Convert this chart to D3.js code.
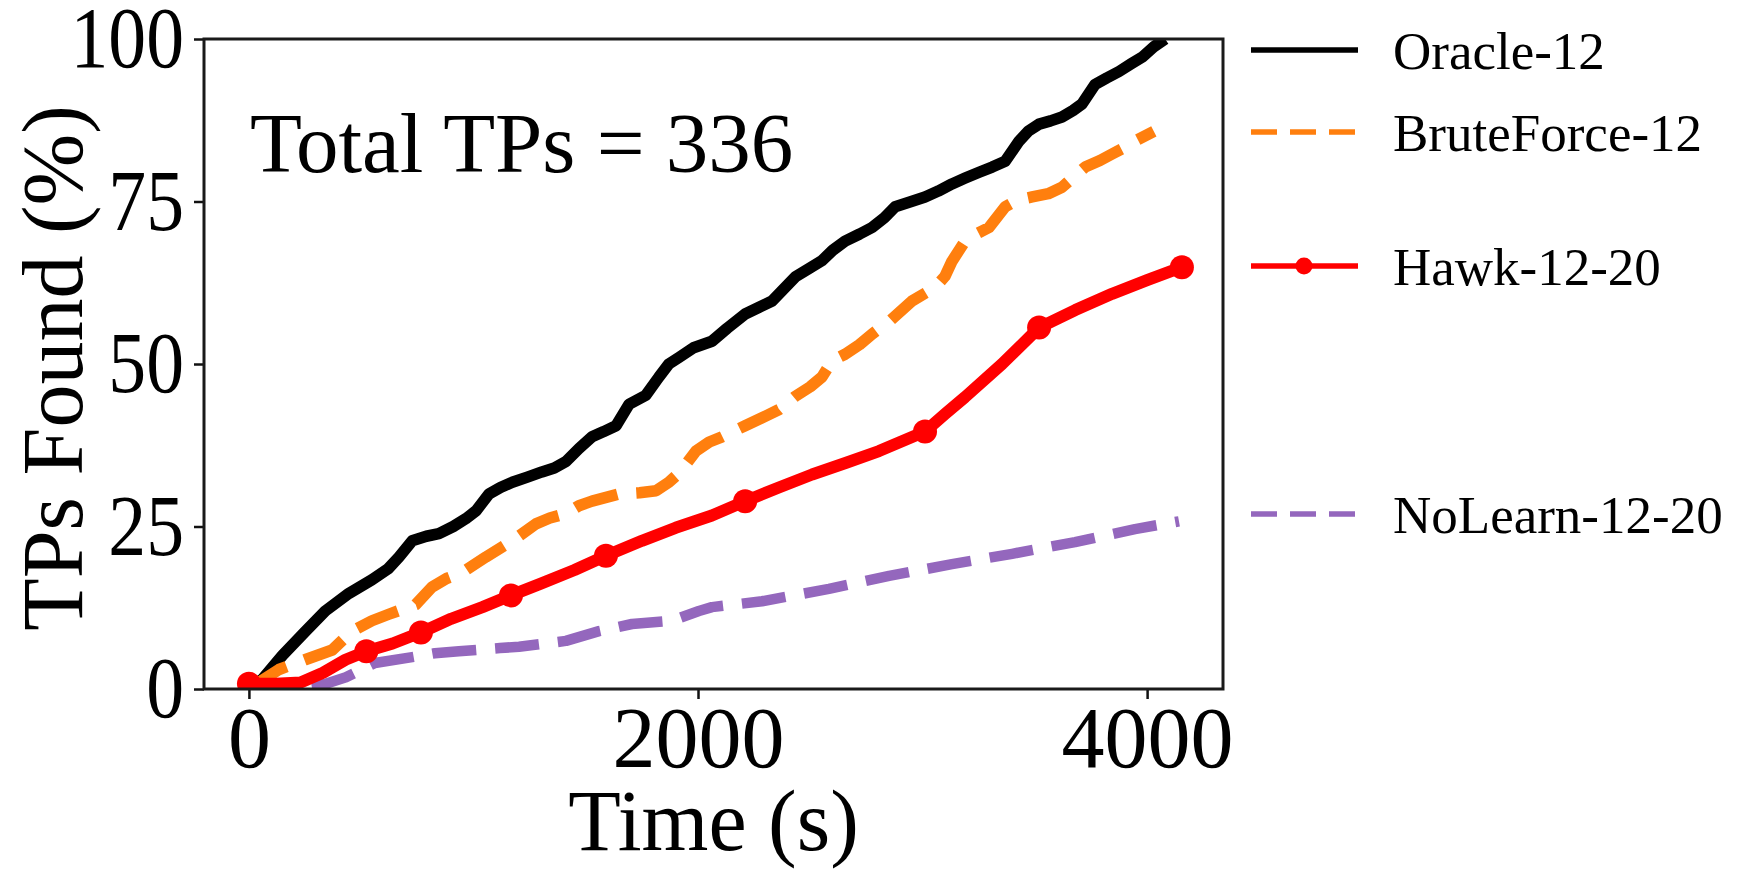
<!DOCTYPE html>
<html>
<head>
<meta charset="utf-8">
<script src="https://cdn.jsdelivr.net/npm/d3@7"></script>
<style>
  html, body { margin: 0; padding: 0; background: #fff; }
  svg { display: block; }
  text { font-family: "Liberation Serif", "Times New Roman", serif; fill: #000; }
</style>
</head>
<body>
<svg id="chart" width="1737" height="872"></svg>
<script>
// ---- Data: time (s) vs. percentage of true positives found ----
const oracleTime = [0, 60, 150, 250, 340, 445, 548, 620, 668, 727, 790, 846, 910, 966, 1011, 1069, 1120, 1173, 1240, 1305, 1360, 1412, 1470, 1528, 1580, 1635, 1693, 1768, 1826, 1870, 1915, 1980, 2062, 2130, 2210, 2270, 2330, 2433, 2490, 2552, 2600, 2655, 2720, 2775, 2830, 2878, 2950, 3011, 3070, 3131, 3190, 3252, 3310, 3368, 3430, 3470, 3519, 3570, 3621, 3670, 3710, 3768, 3820, 3875, 3930, 3978, 4030, 4080];
const oracleFound = [0, 1.5, 5.2, 8.8, 12, 14.7, 16.8, 18.5, 20.3, 22.8, 23.5, 23.9, 25, 26.2, 27.4, 30, 31, 31.8, 32.6, 33.4, 34, 35, 37, 38.8, 39.6, 40.5, 43.8, 45.2, 48, 50, 51, 52.5, 53.5, 55.5, 57.7, 58.7, 59.7, 63.4, 64.6, 65.9, 67.5, 68.9, 70, 71, 72.5, 74.2, 75, 75.7, 76.6, 77.7, 78.6, 79.5, 80.3, 81.2, 84.3, 85.8, 86.9, 87.4, 88, 89, 90, 93, 94, 95, 96.2, 97.2, 98.8, 100];

const bruteTime = [0, 134, 250, 371, 459, 548, 623, 743, 816, 880, 949, 1055, 1173, 1278, 1340, 1412, 1470, 1528, 1648, 1740, 1813, 1870, 1915, 1991, 2050, 2107, 2210, 2290, 2361, 2432, 2500, 2552, 2597, 2655, 2720, 2775, 2860, 2953, 3056, 3100, 3131, 3189, 3240, 3296, 3368, 3420, 3488, 3560, 3621, 3680, 3724, 3790, 3844, 3900, 3946, 4030];
const bruteFound = [0, 3, 4.5, 6, 8.9, 10.5, 11.5, 13, 15.7, 17, 17.9, 20.3, 22.8, 25.4, 26.3, 27, 28.2, 28.9, 30, 30.2, 30.5, 31.8, 33.2, 36.6, 38, 38.8, 40.5, 41.8, 43, 45, 46.5, 48, 50.5, 51.5, 53, 54.6, 56.8, 59.7, 61.8, 63.5, 65.8, 68.9, 70, 71, 74.2, 75.2, 75.7, 76.2, 77.2, 79, 80.3, 81.3, 82.3, 83.3, 84.3, 85.8];

const hawkTime = [0, 120, 230, 330, 430, 523, 640, 766, 900, 1040, 1167, 1300, 1450, 1590, 1750, 1900, 2062, 2210, 2360, 2508, 2660, 2806, 3011, 3100, 3189, 3354, 3519, 3680, 3844, 4000, 4155];
const hawkFound = [0.8, 0.8, 1, 2.5, 4.5, 5.8, 7, 8.7, 10.8, 12.6, 14.4, 16.2, 18.3, 20.5, 22.8, 24.8, 26.7, 28.9, 31, 33, 34.8, 36.6, 39.6, 42.3, 44.9, 50, 55.6, 58.3, 60.8, 62.9, 64.9];
// times at which Hawk reports a round (drawn as dots)
const hawkMarkerTime = [0, 523, 766, 1167, 1590, 2210, 3011, 3519, 4155];

const noLearnTime = [0, 200, 343, 432, 561, 727, 828, 935, 1118, 1203, 1412, 1559, 1706, 1884, 2004, 2062, 2285, 2583, 2851, 3131, 3399, 3679, 3946, 4142];
const noLearnFound = [0, 0, 0.8, 1.8, 4, 4.9, 5.5, 5.8, 6.3, 6.5, 7.4, 8.9, 10, 10.5, 12, 12.6, 13.5, 15.4, 17.4, 19.2, 20.8, 22.6, 24.6, 25.8];

const seriesNames = ["Oracle-12", "BruteForce-12", "Hawk-12-20", "NoLearn-12-20"];
const xTicks = [0, 2000, 4000];
const yTicks = [0, 25, 50, 75, 100];
const totalTPs = 336;

// ---- Layout ----
const svg = d3.select("#chart");
const plot = { left: 204, right: 1223, top: 39, bottom: 689 };

const x = d3.scaleLinear().domain([-200, 4338]).range([plot.left, plot.right]);
const y = d3.scaleLinear().domain([0, 100]).range([plot.bottom, plot.top]);

const zip = (ts, vs) => ts.map((t, i) => ({ t, v: vs[i] }));

const series = [
  { name: seriesNames[0], data: zip(oracleTime, oracleFound), color: "#000000", width: 11.5, dash: null },
  { name: seriesNames[1], data: zip(bruteTime, bruteFound), color: "#ff7f0e", width: 11.5, dash: "44,19" },
  { name: seriesNames[3], data: zip(noLearnTime, noLearnFound), color: "#9467bd", width: 10.5, dash: "44,19" },
  { name: seriesNames[2], data: zip(hawkTime, hawkFound), color: "#ff0000", width: 12, dash: null,
    markers: hawkMarkerTime }
];

svg.append("defs").append("clipPath").attr("id", "plot-clip")
  .append("rect")
  .attr("x", plot.left).attr("y", plot.top)
  .attr("width", plot.right - plot.left).attr("height", plot.bottom - plot.top);

const line = d3.line().x(d => x(d.t)).y(d => y(d.v));

const lines = svg.append("g").attr("clip-path", "url(#plot-clip)");
series.forEach(s => {
  lines.append("path")
    .datum(s.data)
    .attr("d", line)
    .attr("fill", "none")
    .attr("stroke", s.color)
    .attr("stroke-width", s.width)
    .attr("stroke-linejoin", "round")
    .attr("stroke-dasharray", s.dash);
  if (s.markers) {
    const byTime = new Map(s.data.map(d => [d.t, d.v]));
    lines.selectAll(null)
      .data(s.markers.map(t => ({ t, v: byTime.get(t) })))
      .join("circle")
      .attr("cx", d => x(d.t))
      .attr("cy", d => y(d.v))
      .attr("r", 12)
      .attr("fill", s.color);
  }
});

// ---- Axes ----
const fontSize = 86;
const xAxis = d3.axisBottom(x).tickValues(xTicks).tickSize(10).tickPadding(7).tickFormat(d3.format("d"));
const yAxis = d3.axisLeft(y).tickValues(yTicks).tickSize(10).tickPadding(10).tickFormat(d3.format("d"));

const gx = svg.append("g").attr("transform", `translate(0,${plot.bottom})`).call(xAxis);
const gy = svg.append("g").attr("transform", `translate(${plot.left},0)`).call(yAxis);
[gx, gy].forEach(g => {
  g.select(".domain").remove();
  g.selectAll(".tick line").attr("stroke", "#111").attr("stroke-width", 2.5);
  g.selectAll(".tick text")
    .attr("fill", "#000")
    .style("font-family", "'Liberation Serif', 'Times New Roman', serif")
    .style("font-size", fontSize + "px");
});
// the vertical tick labels are set a little narrower
const yLabelSqueeze = 0.88;
gy.selectAll(".tick text")
  .attr("x", -20 / yLabelSqueeze)
  .attr("transform", `scale(${yLabelSqueeze},1)`);

// frame around the plotting area
svg.append("rect")
  .attr("x", plot.left).attr("y", plot.top)
  .attr("width", plot.right - plot.left).attr("height", plot.bottom - plot.top)
  .attr("fill", "none").attr("stroke", "#1a1a1a").attr("stroke-width", 3);

// axis titles
svg.append("text")
  .attr("x", (plot.left + plot.right) / 2).attr("y", 850)
  .attr("text-anchor", "middle")
  .style("font-size", fontSize + "px")
  .text("Time (s)");

svg.append("text")
  .attr("transform", `translate(82,${(plot.top + plot.bottom) / 2 + 4}) rotate(-90)`)
  .attr("text-anchor", "middle")
  .style("font-size", fontSize + "px")
  .text("TPs Found (%)");

// annotation
svg.append("text")
  .attr("x", 250).attr("y", 172)
  .style("font-size", "85px")
  .text(`Total TPs = ${totalTPs}`);

// ---- Legend ----
const legendRows = [
  { name: seriesNames[0], y: 50 },
  { name: seriesNames[1], y: 132 },
  { name: seriesNames[2], y: 266 },
  { name: seriesNames[3], y: 514 }
];
const styleOf = new Map(series.map(s => [s.name, s]));
const legend = svg.append("g");
legendRows.forEach(r => {
  const s = styleOf.get(r.name);
  legend.append("line")
    .attr("x1", 1251).attr("x2", 1358)
    .attr("y1", r.y).attr("y2", r.y)
    .attr("stroke", s.color)
    .attr("stroke-width", 5.5)
    .attr("stroke-dasharray", s.dash ? "26,13" : null);
  if (s.markers) {
    legend.append("circle").attr("cx", 1304).attr("cy", r.y).attr("r", 8.5).attr("fill", s.color);
  }
  legend.append("text")
    .attr("x", 1393).attr("y", r.y)
    .attr("dy", "0.35em")
    .style("font-size", "53px")
    .text(r.name);
});
</script>
</body>
</html>
